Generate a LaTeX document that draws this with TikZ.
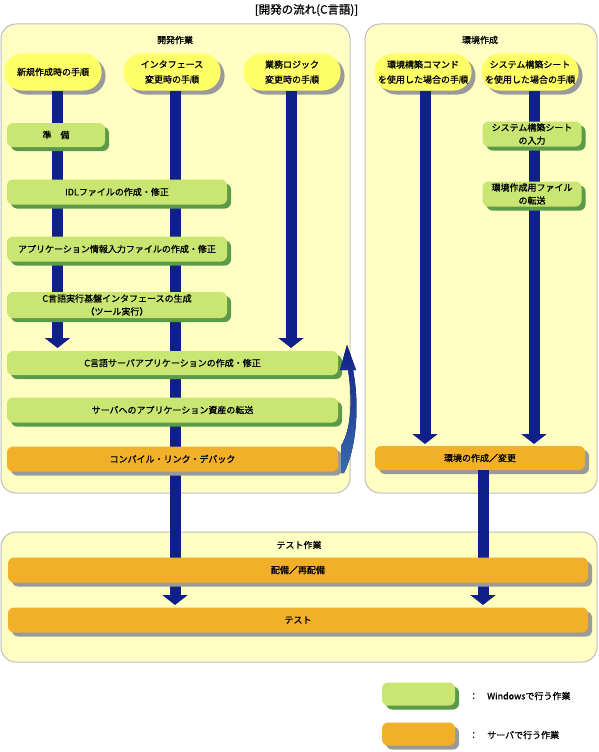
\documentclass[tikz,border=0pt]{standalone}
\usepackage{fontspec}
\setmainfont{Noto Sans CJK JP}[FakeBold=1.0]
\usetikzlibrary{arrows.meta,shadows,calc}
\definecolor{panelbg}{HTML}{FFFFC4}
\definecolor{panelline}{HTML}{BDBDBD}
\definecolor{startfill}{HTML}{FFFF66}
\definecolor{winfill}{HTML}{C9E673}
\definecolor{winshadow}{HTML}{5B9A48}
\definecolor{srvfill}{HTML}{F2AF2A}
\definecolor{grayshadow}{HTML}{9A9A9A}
\definecolor{navy}{HTML}{10208A}
\definecolor{loopblue}{HTML}{3A6CB0}
\begin{document}
\begin{tikzpicture}[x=1pt,y=-1pt,
  font=\fontsize{9}{13}\selectfont,
  panel/.style={draw=panelline, line width=1pt, fill=panelbg, rounded corners=15pt},
  ptitle/.style={inner sep=0pt},
  startnode/.style={fill=startfill, rounded corners=18pt, minimum width=97pt, minimum height=37pt,
    inner sep=0pt, align=center, font=\fontsize{9}{15}\selectfont,
    general shadow={shadow xshift=4pt, shadow yshift=-4pt, fill=grayshadow}},
  winbox/.style={fill=winfill, rounded corners=6pt, inner sep=0pt, align=center,
    general shadow={shadow xshift=4pt, shadow yshift=-4pt, fill=winshadow}},
  srvbox/.style={fill=srvfill, rounded corners=6pt, inner sep=0pt, align=center,
    general shadow={shadow xshift=4pt, shadow yshift=-4pt, fill=grayshadow}},
  bar/.style={draw=navy, line width=11pt, -{Triangle[width=25pt,length=10pt]}},
]
\useasboundingbox (0,0) rectangle (599,752);

% title
\node[font=\fontsize{11.5}{13}\selectfont] (title) at (306.5,10) {[開発の流れ(C言語)]};

% panels
\draw[panel] (1,24) rectangle (350,493);
\draw[panel] (365,24) rectangle (597,493);
\draw[panel] (1,532) rectangle (597,662);
\node[ptitle] (p1) at (175,40) {開発作業};
\node[ptitle] (p2) at (480,40) {環境作成};
\node[ptitle] (p3) at (299,545) {テスト作業};

% arrow tip coordinates
\coordinate (t1) at (57.5,348);
\coordinate (t2) at (175,605);
\coordinate (t3) at (291,348);
\coordinate (t4) at (425,444);
\coordinate (t5) at (534,444);
\coordinate (t6) at (483,605);

% start nodes
\node[startnode] (s1) at (53,72) {新規作成時の手順};
\node[startnode] (s2) at (172,72) {インタフェース\\変更時の手順};
\node[startnode] (s3) at (292,72) {業務ロジック\\変更時の手順};
\node[startnode] (s4) at (423,72) {環境構築コマンド\\を使用した場合の手順};
\node[startnode] (s5) at (530,72) {システム構築シート\\を使用した場合の手順};

% bars (behind boxes)
\draw[bar] (s1.south -| t1) -- (t1);
\draw[bar] (s2.south -| t2) -- (t2);
\draw[bar] (s3.south -| t3) -- (t3);
\draw[bar] (s4.south -| t4) -- (t4);
\draw[bar] (s5.south -| t5) -- (t5);

% development boxes
\node[winbox, minimum width=98pt, minimum height=24pt] (prep) at (56,135) {準　備};
\node[winbox, minimum width=220pt, minimum height=25pt] (idl) at (117,192) {IDLファイルの作成・修正};
\node[winbox, minimum width=220pt, minimum height=25pt] (app) at (117,249) {アプリケーション情報入力ファイルの作成・修正};
\node[winbox, minimum width=220pt, minimum height=26pt] (gen) at (117,305) {C言語実行基盤インタフェースの生成\\（ツール実行）};
\node[winbox, minimum width=331pt, minimum height=24pt] (srv) at (172.5,363) {C言語サーバアプリケーションの作成・修正};
\node[winbox, minimum width=331pt, minimum height=25pt] (xfer) at (172.5,410) {サーバへのアプリケーション資産の転送};
\node[srvbox, minimum width=331pt, minimum height=25pt] (comp) at (172.5,459) {コンパイル・リンク・デバック};

% environment boxes
\node[winbox, minimum width=99pt, minimum height=25pt] (sheet) at (532,134) {システム構築シート\\の入力};
\node[winbox, minimum width=99pt, minimum height=25pt] (envf) at (532,194) {環境作成用ファイル\\の転送};
\node[srvbox, minimum width=210pt, minimum height=24pt] (env) at (480,458) {環境の作成／変更};

% bar from environment box to test
\draw[bar] (env.south -| t6) -- (t6);

% loop-back arrow from compile box to server app box
\fill[top color=navy, bottom color=loopblue]
  (347,345) -- (356,370) -- (353,370)
  .. controls (359,400) and (358,445) .. (344,473)
  -- (341,473) -- (341,446)
  .. controls (351,430) and (353,400) .. (348,370)
  -- (340,370) -- cycle;

% test boxes
\node[srvbox, minimum width=580pt, minimum height=25pt] (deploy) at (298,570) {配備／再配備};
\node[srvbox, minimum width=580pt, minimum height=25pt] (test) at (298,620) {テスト};

% legend
\node[winbox, minimum width=73pt, minimum height=23pt] (lg1) at (418.5,694) {};
\node[srvbox, minimum width=73pt, minimum height=23pt] (lg2) at (418.5,734) {};
\node[anchor=west, inner sep=0pt] (lt1) at (469,696) {：　Windowsで行う作業};
\node[anchor=west, inner sep=0pt] (lt2) at (469,735) {：　サーバで行う作業};
\end{tikzpicture}
\end{document}
